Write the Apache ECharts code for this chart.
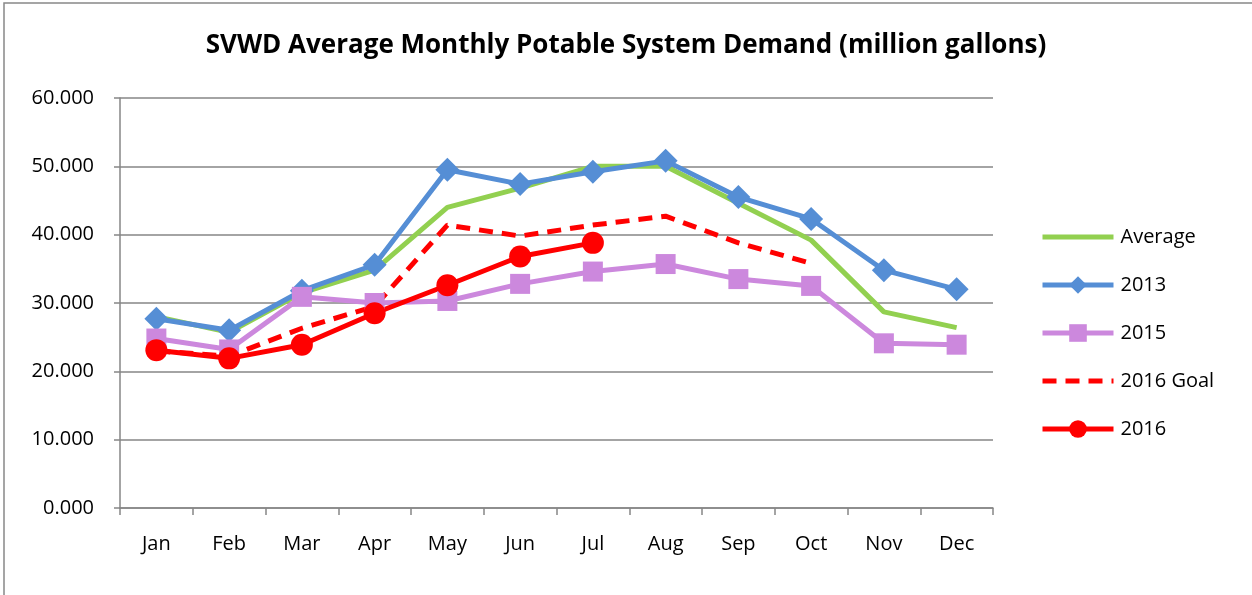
<!DOCTYPE html>
<html>
<head>
<meta charset="utf-8">
<script src="https://cdn.jsdelivr.net/npm/echarts@6/dist/echarts.min.js"></script>
<style>
  html, body { margin: 0; padding: 0; background: #fff; }
  #chart { width: 1252px; height: 595px; }
</style>
</head>
<body>
<div id="chart"></div>
<script>
var months = ['Jan', 'Feb', 'Mar', 'Apr', 'May', 'Jun', 'Jul', 'Aug', 'Sep', 'Oct', 'Nov', 'Dec'];
var average = [28.0, 25.7, 31.5, 34.8, 44.0, 46.8, 50.0, 50.0, 44.6, 39.2, 28.7, 26.4];
var y2013 = [27.7, 26.0, 31.8, 35.6, 49.5, 47.4, 49.2, 50.8, 45.5, 42.3, 34.8, 32.0];
var y2015 = [24.8, 23.2, 30.9, 30.0, 30.3, 32.8, 34.6, 35.7, 33.5, 32.5, 24.1, 23.9];
var goal2016 = [23.0, 22.2, 26.3, 29.5, 41.4, 39.8, 41.4, 42.7, 38.8, 35.8, null, null];
var y2016 = [23.1, 21.9, 23.9, 28.5, 32.6, 36.8, 38.8, null, null, null, null, null];

var font = 'Open Sans';

$chart();

function $chart() {
  var chart = echarts.init(document.getElementById('chart'));
  var option = {
    animation: false,
    textStyle: { fontFamily: font },
    graphic: [{
      type: 'rect',
      shape: { x: 4, y: 3, width: 1260, height: 600 },
      style: { fill: 'none', stroke: '#888', lineWidth: 1.5 },
      silent: true
    }],
    title: {
      text: 'SVWD Average Monthly Potable System Demand (million gallons)',
      left: 'center',
      top: 28,
      textStyle: { fontSize: 26, fontWeight: 'bold', color: '#000', fontFamily: font }
    },
    legend: {
      orient: 'vertical',
      left: 1035,
      top: 221,
      itemWidth: 71,
      itemHeight: 22,
      itemGap: 26,
      lineStyle: { width: 5 },
      textStyle: { fontSize: 20, color: '#000', padding: [0, 0, 0, 2], lineHeight: 22 },
      data: [
        { name: 'Average', itemStyle: { opacity: 0 } },
        '2013',
        '2015',
        { name: '2016 Goal', itemStyle: { opacity: 0 } },
        '2016'
      ]
    },
    grid: { left: 120, right: 259, top: 98, bottom: 87 },
    xAxis: {
      type: 'category',
      data: months,
      boundaryGap: true,
      axisLine: { lineStyle: { color: '#868686', width: 1.5 } },
      axisTick: { show: true, length: 7, lineStyle: { color: '#868686', width: 1.5 } },
      axisLabel: { fontSize: 20, color: '#000', margin: 26 }
    },
    yAxis: {
      type: 'value',
      min: 0,
      max: 60,
      interval: 10,
      axisLine: { show: true, lineStyle: { color: '#868686', width: 1.5 } },
      axisTick: { show: true, length: 6, lineStyle: { color: '#868686', width: 1.5 } },
      splitLine: { lineStyle: { color: '#868686', width: 1.5 } },
      axisLabel: {
        fontSize: 20, color: '#000', margin: 26,
        formatter: function (v) { return v.toFixed(3); }
      }
    },
    series: [
      {
        name: 'Average', type: 'line', data: average,
        symbol: 'none',
        lineStyle: { color: '#92d050', width: 5 },
        itemStyle: { color: '#92d050' }
      },
      {
        name: '2013', type: 'line', data: y2013,
        symbol: 'diamond', symbolSize: 24,
        lineStyle: { color: '#558ed5', width: 5 },
        itemStyle: { color: '#558ed5' }
      },
      {
        name: '2015', type: 'line', data: y2015,
        symbol: 'rect', symbolSize: 20,
        lineStyle: { color: '#cc88dd', width: 5 },
        itemStyle: { color: '#cc88dd' }
      },
      {
        name: '2016 Goal', type: 'line', data: goal2016,
        symbol: 'none',
        lineStyle: { color: '#ff0000', width: 5, type: [14, 9] },
        itemStyle: { color: '#ff0000' }
      },
      {
        name: '2016', type: 'line', data: y2016,
        symbol: 'circle', symbolSize: 22,
        lineStyle: { color: '#ff0000', width: 5 },
        itemStyle: { color: '#ff0000' }
      }
    ]
  };
  chart.setOption(option);
}
</script>
</body>
</html>
